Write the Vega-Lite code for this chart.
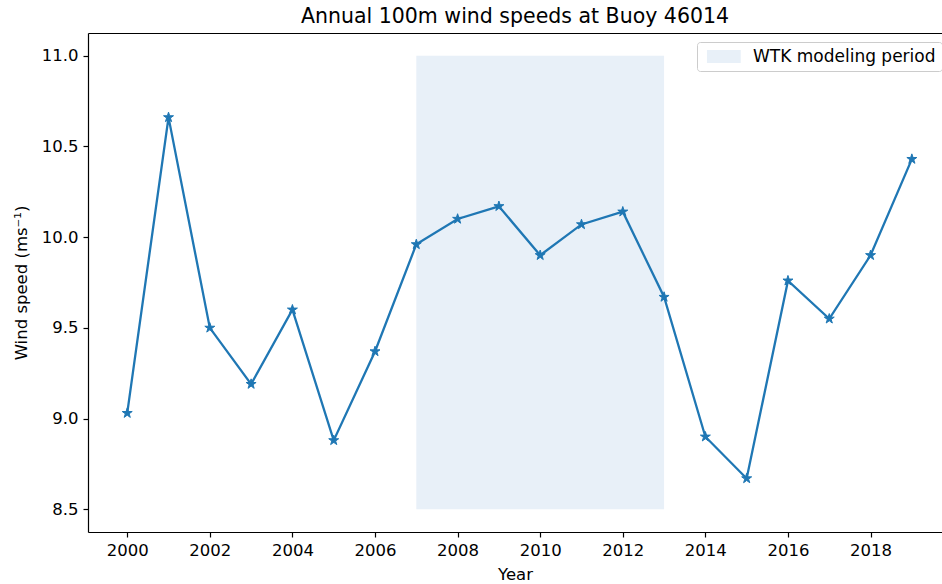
{
  "$schema": "https://vega.github.io/schema/vega-lite/v6.json",
  "width": 854,
  "height": 499,
  "autosize": {"type": "none"},
  "padding": {"top": 33, "left": 88, "right": 0, "bottom": 52},
  "background": "white",
  "title": {
    "text": "Annual 100m wind speeds at Buoy 46014",
    "font": "DejaVu Sans",
    "fontSize": 20.5,
    "fontWeight": "normal",
    "color": "black",
    "anchor": "middle",
    "offset": 6
  },
  "config": {
    "view": {"stroke": null},
    "font": "DejaVu Sans",
    "axis": {
      "grid": false,
      "domainColor": "black",
      "domainWidth": 1.2,
      "tickColor": "black",
      "tickWidth": 1.2,
      "tickSize": 5,
      "labelColor": "black",
      "labelFont": "DejaVu Sans",
      "labelFontSize": 16.5,
      "labelPadding": 5,
      "titleFont": "DejaVu Sans",
      "titleFontSize": 16.5,
      "titleFontWeight": "normal",
      "titleColor": "black"
    }
  },
  "datasets": {
    "speeds": [
      {"year": 2000, "speed": 9.03},
      {"year": 2001, "speed": 10.66},
      {"year": 2002, "speed": 9.50},
      {"year": 2003, "speed": 9.19},
      {"year": 2004, "speed": 9.60},
      {"year": 2005, "speed": 8.88},
      {"year": 2006, "speed": 9.37},
      {"year": 2007, "speed": 9.96},
      {"year": 2008, "speed": 10.10},
      {"year": 2009, "speed": 10.17},
      {"year": 2010, "speed": 9.90},
      {"year": 2011, "speed": 10.07},
      {"year": 2012, "speed": 10.14},
      {"year": 2013, "speed": 9.67},
      {"year": 2014, "speed": 8.90},
      {"year": 2015, "speed": 8.67},
      {"year": 2016, "speed": 9.76},
      {"year": 2017, "speed": 9.55},
      {"year": 2018, "speed": 9.90},
      {"year": 2019, "speed": 10.43}
    ],
    "period": [
      {"start": 2007, "end": 2013, "lo": 8.5, "hi": 11.0, "label": "WTK modeling period"}
    ]
  },
  "layer": [
    {
      "data": {"name": "period"},
      "mark": {"type": "rect", "stroke": null},
      "encoding": {
        "x": {
          "field": "start", "type": "quantitative",
          "scale": {"domain": [1999.05, 2019.73], "nice": false, "zero": false},
          "axis": {"orient": "top", "labels": false, "ticks": false, "title": null, "domain": true}
        },
        "x2": {"field": "end"},
        "y": {
          "field": "lo", "type": "quantitative",
          "scale": {"domain": [8.375, 11.125], "nice": false, "zero": false},
          "axis": {"values": [8.5, 9.0, 9.5, 10.0, 10.5, 11.0], "format": ".1f", "title": "Wind speed (ms⁻¹)", "titlePadding": 12}
        },
        "y2": {"field": "hi"},
        "color": {
          "field": "label", "type": "nominal",
          "scale": {"domain": ["WTK modeling period"], "range": ["#e8f0f8"]},
          "legend": {
            "title": null,
            "orient": "none",
            "legendX": 609,
            "legendY": 9,
            "symbolType": "M-0.7,-1H4.5V1H-0.7Z",
            "symbolSize": 169,
            "symbolStrokeWidth": 0,
            "labelFontSize": 17,
            "labelFont": "DejaVu Sans",
            "labelColor": "black",
            "labelLimit": 0,
            "labelOffset": 33,
            "strokeColor": "#cccccc",
            "fillColor": "white",
            "cornerRadius": 3,
            "padding": 6
          }
        }
      }
    },
    {
      "data": {"name": "speeds"},
      "mark": {"type": "line", "color": "#1f77b4", "strokeWidth": 2.3},
      "encoding": {
        "x": {
          "field": "year", "type": "quantitative",
          "scale": {"domain": [1999.05, 2019.73], "nice": false, "zero": false},
          "axis": {"values": [2000, 2002, 2004, 2006, 2008, 2010, 2012, 2014, 2016, 2018], "format": "d", "title": "Year", "titlePadding": 8}
        },
        "y": {"field": "speed", "type": "quantitative"}
      }
    },
    {
      "data": {"name": "speeds"},
      "mark": {
        "type": "point",
        "shape": "M0,-1L0.2245,-0.309L0.951,-0.309L0.363,0.118L0.588,0.809L0,0.382L-0.588,0.809L-0.363,0.118L-0.951,-0.309L-0.2245,-0.309Z",
        "size": 110,
        "filled": true,
        "fill": "#1f77b4",
        "stroke": "#1f77b4",
        "strokeWidth": 1,
        "opacity": 1
      },
      "encoding": {
        "x": {"field": "year", "type": "quantitative", "axis": null},
        "y": {"field": "speed", "type": "quantitative"}
      }
    }
  ],
  "resolve": {"axis": {"x": "independent"}}
}
